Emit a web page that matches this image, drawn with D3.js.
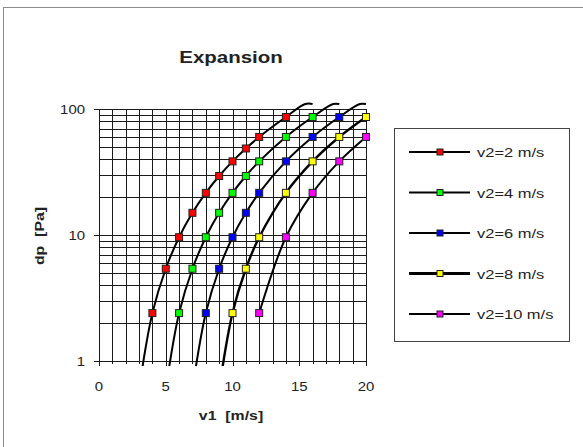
<!DOCTYPE html>
<html><head><meta charset="utf-8">
<script src="https://cdn.jsdelivr.net/npm/d3@7"></script>
<style>html,body{margin:0;padding:0;background:#fff;}svg{display:block;}text{white-space:pre;}</style>
</head><body>
<script>
// ---- data ----
const v1 = [3,4,5,6,7,8,9,10,11,12,14,16,18,20];
const seriesNames = ["v2=2 m/s","v2=4 m/s","v2=6 m/s","v2=8 m/s","v2=10 m/s"];
const seriesColors = ["#ff0000","#00ff00","#0000ff","#ffff00","#ff00ff"];
const dp_v2_2  = [0.6,2.4,5.4,9.6,15,21.6,29.4,38.4,48.6,60,86.4,120,153.6,194.4];
const dp_v2_4  = [null,null,0.6,2.4,5.4,9.6,15,21.6,29.4,38.4,60,86.4,117.6,153.6];
const dp_v2_6  = [null,null,null,null,0.6,2.4,5.4,9.6,15,21.6,38.4,60,86.4,117.6];
const dp_v2_8  = [null,null,null,null,null,null,0.6,2.4,5.4,9.6,21.6,38.4,60,86.4];
const dp_v2_10 = [null,null,null,null,null,null,null,null,null,2.4,9.6,21.6,38.4,60];
const seriesValues = [dp_v2_2, dp_v2_4, dp_v2_6, dp_v2_8, dp_v2_10];
const xTicks = [0,5,10,15,20];
const yTicks = [1,10,100];
const titleText = "Expansion";
const xTitle = "v1  [m/s]";
const yTitle = "dp  [Pa]";

// ---- layout ----
const W = 583, H = 447;
const L = 99, R = 366, T = 109, B = 361;
const svg = d3.select("body").append("svg").attr("width", W).attr("height", H);
svg.append("rect").attr("x",3.5).attr("y",7.5).attr("width",W+5).attr("height",H+5)
  .attr("fill","#fff").attr("stroke","#8c8c8c").attr("stroke-width",1);

const x = d3.scaleLinear().domain([0,20]).range([L,R]);
const y = d3.scaleLog().domain([1,100]).range([B,T]);

function stretchedText(g, px, py, str, opts) {
  const o = Object.assign({size:13, weight:"normal", anchor:"middle", sx:1.25, rot:0, fill:"#000"}, opts);
  const gg = g.append("g").attr("transform", `translate(${px},${py}) rotate(${o.rot}) scale(${o.sx},1)`);
  gg.append("text").attr("x",0).attr("y",0)
    .attr("xml:space","preserve")
    .attr("font-family","'Liberation Sans', Arial, sans-serif")
    .attr("font-size",o.size).attr("font-weight",o.weight)
    .attr("text-anchor",o.anchor).attr("fill",o.fill).text(str);
  return gg;
}

// plot background
svg.append("rect").attr("x",L).attr("y",T).attr("width",R-L).attr("height",B-T).attr("fill","#fff");

// grid
const grid = svg.append("g").attr("stroke","#1a1a1a").attr("stroke-width",1).attr("shape-rendering","crispEdges");
const xMinor = d3.range(0,21,1);
grid.selectAll("line.v").data(xMinor).join("line")
  .attr("x1",d=>Math.round(x(d))+0.5).attr("x2",d=>Math.round(x(d))+0.5)
  .attr("y1",T).attr("y2",B+3);
const yMinor = [];
for (let dec=1; dec<100; dec*=10) for (let k=1;k<10;k++) yMinor.push(dec*k);
yMinor.push(100);
grid.selectAll("line.h").data(yMinor).join("line")
  .attr("x1",L).attr("x2",R)
  .attr("y1",d=>Math.round(y(d))+0.5).attr("y2",d=>Math.round(y(d))+0.5);
grid.selectAll("line.yt").data(yTicks).join("line")
  .attr("x1",L-5).attr("x2",L)
  .attr("y1",d=>Math.round(y(d))+0.5).attr("y2",d=>Math.round(y(d))+0.5);
grid.selectAll("line.xt").data(xTicks).join("line")
  .attr("x1",d=>Math.round(x(d))+0.5).attr("x2",d=>Math.round(x(d))+0.5)
  .attr("y1",B).attr("y2",B+5);

// tick labels
xTicks.forEach(t => stretchedText(svg, x(t), B+30, String(t), {size:13, sx:1.15, fill:"#222"}));
yTicks.forEach(t => stretchedText(svg, L-14, y(t)+5, String(t), {size:13, sx:1.15, anchor:"end", fill:"#222"}));

// titles
stretchedText(svg, 231, 63, titleText, {size:16, weight:"bold", sx:1.28, fill:"#222"});
stretchedText(svg, 231, 420, xTitle, {size:13, weight:"bold", sx:1.22, fill:"#222"});
stretchedText(svg, 44, 236, yTitle, {size:13, weight:"bold", sx:1.22, rot:-90, fill:"#222"});

// series lines
svg.append("clipPath").attr("id","pc").append("rect")
  .attr("x",L-20).attr("y",T-20).attr("width",R-L+40).attr("height",B-T+25);
const yClamp = T - 5;
const lineGen = d3.line().x(d=>d[0]).y(d=>d[1]).curve(d3.curveCatmullRom.alpha(0.5));
const linesG = svg.append("g").attr("clip-path","url(#pc)");
seriesValues.forEach((vals, si) => {
  const raw = [];
  vals.forEach((v,i) => { if (v != null && v > 0) raw.push([x(v1[i]), y(v)]); });
  const pts = [];
  for (let i=0;i<raw.length;i++) {
    const p = raw[i];
    if (p[1] < yClamp) {
      const q = pts[pts.length-1];
      const t = (q[1]-yClamp)/(q[1]-p[1]);
      pts.push([q[0] + t*(p[0]-q[0]), yClamp]);
      pts.push([p[0], yClamp]);
      break;
    }
    pts.push(p);
  }
  linesG.append("path").attr("d", lineGen(pts)).attr("fill","none")
    .attr("stroke","#000").attr("stroke-width", si===3 ? 2.4 : 2);
});

// markers
const mk = svg.append("g");
seriesValues.forEach((vals, si) => {
  vals.forEach((v,i) => {
    if (v == null || v < 1 || v > 100) return;
    mk.append("rect").attr("x",x(v1[i])-3.5).attr("y",y(v)-3.5).attr("width",7).attr("height",7)
      .attr("fill",seriesColors[si]).attr("stroke","#222").attr("stroke-width",1);
  });
});

// legend
const lg = svg.append("g");
lg.append("rect").attr("x",394.5).attr("y",128.5).attr("width",175).attr("height",213)
  .attr("fill","#fff").attr("stroke","#444").attr("stroke-width",1);
seriesNames.forEach((n, i) => {
  const ly = 152 + i*40.5;
  lg.append("line").attr("x1",409).attr("x2",470).attr("y1",ly).attr("y2",ly)
    .attr("stroke","#000").attr("stroke-width", i===3 ? 3 : 2);
  lg.append("rect").attr("x",437).attr("y",ly-3).attr("width",6).attr("height",6)
    .attr("fill",seriesColors[i]).attr("stroke","#222").attr("stroke-width",1);
  stretchedText(lg, 477, ly+5, n, {size:13.5, anchor:"start", sx:1.22, fill:"#222"});
});
</script>
</body></html>
